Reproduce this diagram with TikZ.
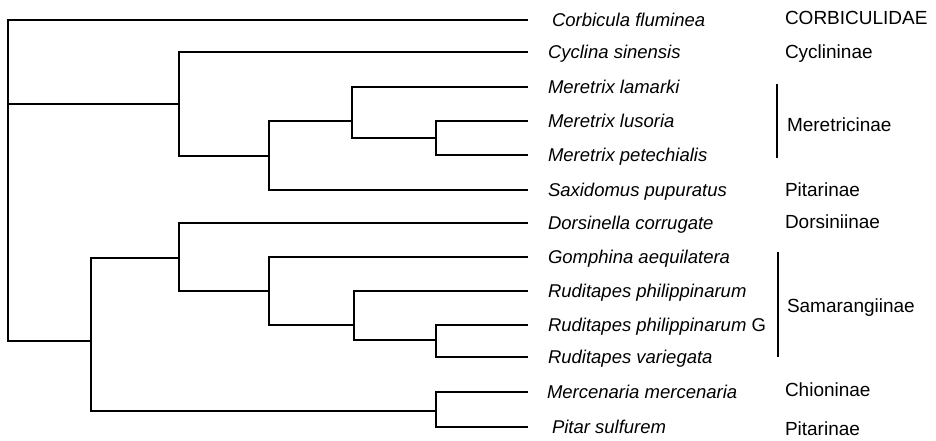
\documentclass[tikz,border=0pt]{standalone}
\usepackage{fontspec}
\setmainfont{Liberation Sans}
\begin{document}
\begin{tikzpicture}[x=1pt,y=-1pt,
  branch/.style={line width=1.7pt, line join=miter},
  bar/.style={line width=1.5pt},
  species/.style={anchor=west, inner sep=0pt, outer sep=0pt, inner xsep=20pt,
    text height=13.2pt, text depth=0pt, font=\fontsize{18.5}{20}\selectfont\itshape},
  taxon/.style={anchor=west, inner sep=0pt, outer sep=0pt,
    text height=13.6pt, text depth=0pt, font=\fontsize{19}{21}\selectfont}]
\useasboundingbox (0,0) rectangle (936,441);

% terminal taxa (west anchor = end of the branch)
\node[species, inner xsep=24pt] (corb) at (528,20)  {Corbicula fluminea};
\node[species] (cycl) at (528,52)  {Cyclina sinensis};
\node[species] (mlam) at (528,87)  {Meretrix lamarki};
\node[species] (mlus) at (528,121) {Meretrix lusoria};
\node[species] (mpet) at (528,155) {Meretrix petechialis};
\node[species] (saxi) at (528,190) {Saxidomus pupuratus};
\node[species] (dors) at (528,223) {Dorsinella corrugate};
\node[species] (gomp) at (528,257) {Gomphina aequilatera};
\node[species] (rphi) at (528,291) {Ruditapes philippinarum};
\node[species] (rphg) at (528,325) {Ruditapes philippinarum\/ \upshape G};
\node[species] (rvar) at (528,357) {Ruditapes variegata};
\node[species, inner xsep=19pt] (merc) at (528,392) {Mercenaria mercenaria};
\node[species, inner xsep=24pt] (pita) at (528,427) {Pitar sulfurem};

% internal nodes
\coordinate (root) at (8,104);
\coordinate (u1) at (179,104);
\coordinate (u2) at (269,156);
\coordinate (u3) at (352,121);
\coordinate (u4) at (436,138);
\coordinate (l1) at (91,341);
\coordinate (l2) at (179,258);
\coordinate (l3) at (269,291);
\coordinate (l4) at (354,325);
\coordinate (l5) at (436,340);
\coordinate (l6) at (436,411);

% branches
\draw[branch] (root) |- (corb.west);
\draw[branch] (root) -- (u1);
\draw[branch] (root) |- (l1);
\draw[branch] (u1) |- (cycl.west);
\draw[branch] (u1) |- (u2);
\draw[branch] (u2) |- (u3);
\draw[branch] (u2) |- (saxi.west);
\draw[branch] (u3) |- (mlam.west);
\draw[branch] (u3) |- (u4);
\draw[branch] (u4) |- (mlus.west);
\draw[branch] (u4) |- (mpet.west);
\draw[branch] (l1) |- (l2);
\draw[branch] (l1) |- (l6);
\draw[branch] (l2) |- (dors.west);
\draw[branch] (l2) |- (l3);
\draw[branch] (l3) |- (gomp.west);
\draw[branch] (l3) |- (l4);
\draw[branch] (l4) |- (rphi.west);
\draw[branch] (l4) |- (l5);
\draw[branch] (l5) |- (rphg.west);
\draw[branch] (l5) |- (rvar.west);
\draw[branch] (l6) |- (merc.west);
\draw[branch] (l6) |- (pita.west);

% group brackets
\coordinate (mtop) at (777,84);
\coordinate (mbot) at (777,158);
\coordinate (stop) at (778,252);
\coordinate (sbot) at (778,357);
\draw[bar] (mtop) -- (mbot);
\draw[bar] (stop) -- (sbot);

% family / subfamily labels
\node[taxon] (fcorb) at (785,18)  {CORBICULIDAE};
\node[taxon] (fcycl) at (785,52)  {Cyclininae};
\node[taxon] (fmere) at (787,125) {Meretricinae};
\node[taxon] (fpit1) at (785,190) {Pitarinae};
\node[taxon] (fdors) at (785,222) {Dorsiniinae};
\node[taxon] (fsama) at (787,306) {Samarangiinae};
\node[taxon] (fchio) at (785,390) {Chioninae};
\node[taxon] (fpit2) at (785,429) {Pitarinae};
\end{tikzpicture}
\end{document}
